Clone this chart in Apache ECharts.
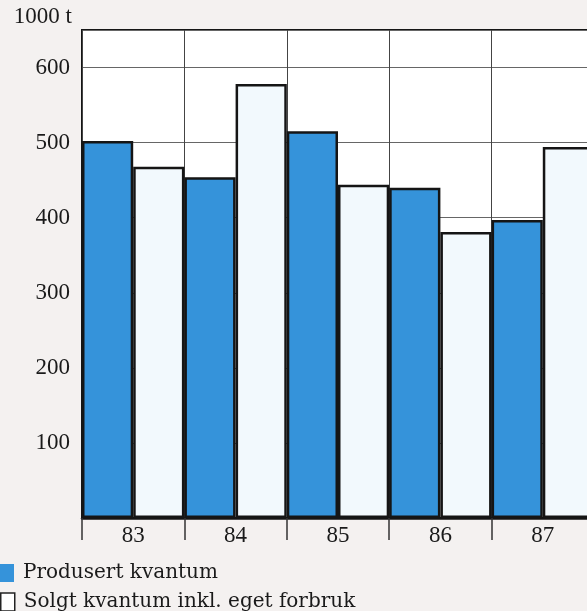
<!DOCTYPE html>
<html>
<head>
<meta charset="utf-8">
<script src="https://cdn.jsdelivr.net/npm/echarts@6/dist/echarts.min.js"></script>
<style>
  html, body { margin: 0; padding: 0; background: #f4f1f0; }
  #chart { width: 587px; height: 611px; }
</style>
</head>
<body>
<div id="chart"></div>
<script>
var years = ["83", "84", "85", "86", "87"];
var produsert = [502, 454, 515, 440, 397];   // Produsert kvantum
var solgt = [468, 578, 444, 381, 494];       // Solgt kvantum inkl. eget forbruk
var seriesNames = ["Produsert kvantum", "Solgt kvantum inkl. eget forbruk"];

var serif = "'Liberation Serif', 'DejaVu Serif', serif";

// one legend row per series, stacked under the chart
function legendRow(name, top, itemStyle) {
    return {
        left: 0,
        top: top,
        padding: 0,
        itemWidth: 14,
        itemHeight: 18,
        icon: "rect",
        textStyle: {
            fontFamily: "'DejaVu Serif', serif",
            fontSize: 20,
            color: "#1a1a1a",
            padding: [0, 0, 0, 4]
        },
        data: [{ name: name, itemStyle: itemStyle }]
    };
}

var option = {
    backgroundColor: "#f4f1f0",
    animation: false,
    grid: {
        left: 82,
        top: 30,
        right: -7,
        bottom: 93,
        show: true,
        backgroundColor: "#ffffff",
        borderColor: "#151515",
        borderWidth: 2,
        outerBoundsMode: "none"
    },
    legend: [
        legendRow(seriesNames[0], 563, { color: "#3593da", borderWidth: 0 }),
        legendRow(seriesNames[1], 592, { color: "#ffffff", borderColor: "#222", borderWidth: 1.5 })
    ],
    xAxis: {
        type: "category",
        data: years,
        boundaryGap: true,
        axisLine: { show: true, lineStyle: { color: "#151515", width: 2.5 } },
        axisTick: { show: true, length: 22, lineStyle: { color: "#333", width: 1.5 } },
        axisLabel: {
            margin: 6,
            fontFamily: serif,
            fontSize: 23,
            color: "#1a1a1a"
        },
        splitLine: { show: true, lineStyle: { color: "#444", width: 1 } }
    },
    yAxis: {
        type: "value",
        min: 0,
        max: 650,
        interval: 100,
        name: "1000 t",
        nameLocation: "end",
        nameGap: 2,
        nameTextStyle: {
            fontFamily: serif,
            fontSize: 23,
            color: "#1a1a1a",
            align: "right",
            padding: [0, 10, 0, 0]
        },
        axisLine: { show: false },
        axisTick: { show: false },
        axisLabel: {
            margin: 12,
            fontFamily: serif,
            fontSize: 23,
            color: "#1a1a1a",
            formatter: function (v) {
                return (v > 0 && v % 100 === 0) ? String(v) : "";
            }
        },
        splitLine: { show: true, lineStyle: { color: "#666", width: 1 } }
    },
    series: [
        {
            name: seriesNames[0],
            type: "bar",
            data: produsert,
            barGap: "0%",
            barCategoryGap: "0%",
            itemStyle: { color: "#3593da", borderColor: "#151515", borderWidth: 2.5 }
        },
        {
            name: seriesNames[1],
            type: "bar",
            data: solgt,
            barGap: "0%",
            barCategoryGap: "0%",
            itemStyle: { color: "#f2f9fd", borderColor: "#151515", borderWidth: 2.5 }
        }
    ]
};

var chart = echarts.init(document.getElementById("chart"));
chart.setOption(option);
</script>
</body>
</html>
